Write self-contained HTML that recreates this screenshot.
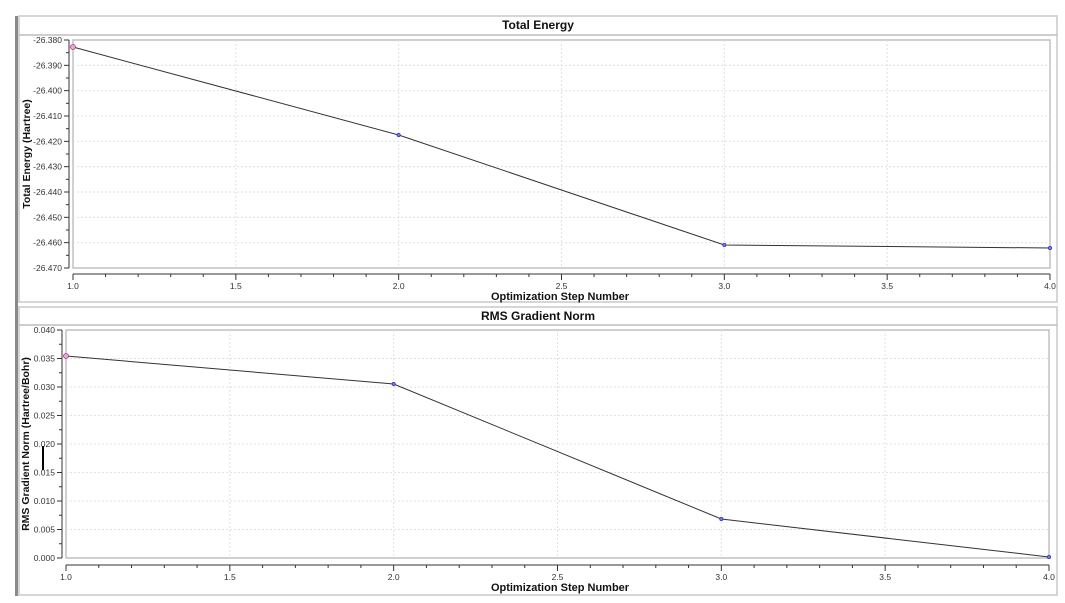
<!DOCTYPE html>
<html><head><meta charset="utf-8"><style>
html,body{margin:0;padding:0;background:#fff;}
svg{display:block;font-family:"Liberation Sans",Arial,sans-serif;}
</style></head><body>
<svg id="s" width="1065" height="603" xmlns="http://www.w3.org/2000/svg">
<rect width="1065" height="603" fill="#fff"/>
<rect x="15" y="16" width="3" height="580" fill="#8a8a8a"/>
<rect x="19" y="16" width="1038" height="286" fill="#fff" stroke="#c8c8c8" stroke-width="1.5"/>
<rect x="19" y="307" width="1038" height="288" fill="#fff" stroke="#c8c8c8" stroke-width="1.5"/>
<line x1="19" y1="35" x2="1057" y2="35" stroke="#bdbdbd" stroke-width="1.5"/>
<line x1="19" y1="325" x2="1057" y2="325" stroke="#bdbdbd" stroke-width="1.5"/>
<g id="g"></g>
</svg>
<script>
var g=document.getElementById('g'),h='';
function panel(o){
 var L=o.L,R=o.R,T=o.T,B=o.B;
 h+='<rect x="'+L+'" y="'+T+'" width="'+(R-L)+'" height="'+(B-T)+'" fill="#fff" stroke="#c0c0c0" stroke-width="1.5"/>';
 for(var i=0;i<o.ny;i++){var y=T+(B-T)*i/(o.ny-1);
  if(i>0&&i<o.ny-1)h+='<line x1="'+L+'" y1="'+y+'" x2="'+R+'" y2="'+y+'" stroke="#e0e0e0" stroke-dasharray="2,2"/>';
  h+='<line x1="'+(o.ya-5)+'" y1="'+y+'" x2="'+o.ya+'" y2="'+y+'" stroke="#333"/>';
  h+='<text x="'+(o.ya-7)+'" y="'+(y+3)+'" font-size="8.5" text-anchor="end" fill="#333">'+o.yl[i]+'</text>';
  if(i<o.ny-1){var ym=y+(B-T)/(o.ny-1)/2;h+='<line x1="'+(o.ya-3)+'" y1="'+ym+'" x2="'+o.ya+'" y2="'+ym+'" stroke="#333"/>';}
 }
 h+='<line x1="'+o.ya+'" y1="'+T+'" x2="'+o.ya+'" y2="'+B+'" stroke="#333"/>';
 for(var j=0;j<=30;j++){var x=L+(R-L)*j/30;
  var maj=j%5==0;
  if(maj&&j>0&&j<30)h+='<line x1="'+x+'" y1="'+T+'" x2="'+x+'" y2="'+B+'" stroke="#e0e0e0" stroke-dasharray="2,2"/>';
  h+='<line x1="'+x+'" y1="'+o.xa+'" x2="'+x+'" y2="'+(o.xa+(maj?6:3))+'" stroke="#333"/>';
  if(maj)h+='<text x="'+x+'" y="'+(o.xa+15)+'" font-size="8.5" text-anchor="middle" fill="#333">'+(1+j/10).toFixed(1)+'</text>';
 }
 h+='<line x1="'+L+'" y1="'+o.xa+'" x2="'+R+'" y2="'+o.xa+'" stroke="#333"/>';
 var pts=o.p.map(function(v,k){return [L+(R-L)*k/3,v]});
 h+='<polyline points="'+pts.map(function(p){return p.join(',')}).join(' ')+'" fill="none" stroke="#333" stroke-width="1"/>';
 pts.forEach(function(p,k){h+='<circle cx="'+p[0]+'" cy="'+p[1]+'" r="'+(k==0?2.5:1.6)+'" fill="'+(k==0?'#d8b0e0':'#7b7bff')+'" stroke="'+(k==0?'#c03070':'#3030c0')+'" stroke-width="0.8"/>';});
 h+='<text x="538" y="'+o.tt+'" font-size="12" font-weight="bold" text-anchor="middle" fill="#111">'+o.title+'</text>';
 h+='<text x="560" y="'+o.xt+'" font-size="11" font-weight="bold" text-anchor="middle" fill="#111">Optimization Step Number</text>';
 h+='<text transform="translate('+o.yx+','+((T+B)/2)+') rotate(-90)" font-size="10.5" font-weight="bold" text-anchor="middle" fill="#111">'+o.ytitle+'</text>';
}
var yl1=[];for(var i=0;i<10;i++)yl1.push((-26.38-0.01*i).toFixed(3));
panel({L:73,R:1050,T:40,B:268,ny:10,yl:yl1,ya:69,xa:274,p:[47,135,245,248],tt:29,xt:300,title:'Total Energy',ytitle:'Total Energy (Hartree)',yx:30});
var yl2=[];for(var i=0;i<9;i++)yl2.push((0.04-0.005*i).toFixed(3));
panel({L:66,R:1049,T:330,B:558,ny:9,yl:yl2,ya:62,xa:565,p:[356,384,519,557],tt:320,xt:591,title:'RMS Gradient Norm',ytitle:'RMS Gradient Norm (Hartree/Bohr)',yx:29});
h+='<rect x="42" y="446" width="2" height="24" fill="#000"/>';
g.innerHTML=h;
</script>
</body></html>
